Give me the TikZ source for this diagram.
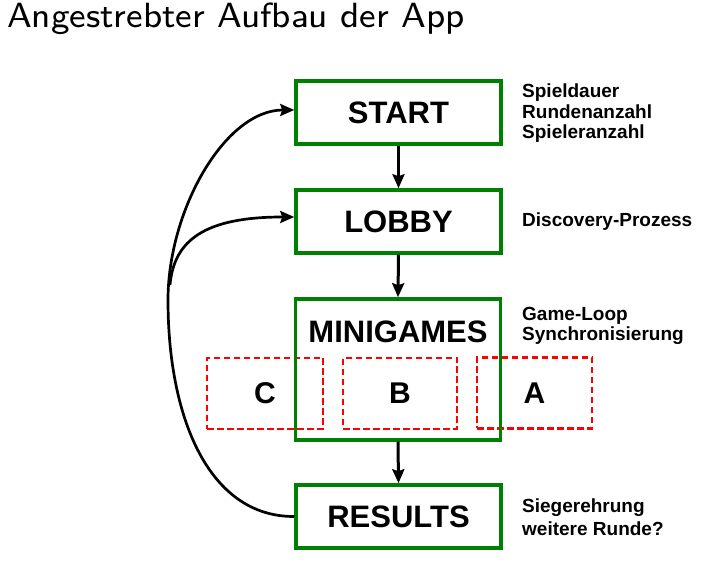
\documentclass[tikz,border=0pt]{standalone}
\usepackage{fontspec}
\newfontfamily\rob{Liberation Sans}
\newfontfamily\ttlfont{lmsans8-regular.otf}
\usetikzlibrary{arrows.meta}
\begin{document}
\begin{tikzpicture}[x=1pt,y=1pt,
  gbox/.style={draw=green!50!black, line width=3.5pt, minimum width=205pt, minimum height=63pt, inner sep=0pt, font=\rob\bfseries\fontsize{31}{37}\selectfont},
  rbox/.style={draw=red, dash pattern=on 6.5pt off 3.5pt, line width=2.1pt, minimum height=71pt, inner sep=0pt, font=\rob\bfseries\fontsize{30}{36}\selectfont},
  side/.style={anchor=base west, align=left, inner sep=0pt, font=\rob\bfseries\fontsize{19}{20.5}\selectfont},
  arr/.style={-{Stealth[length=14pt,width=12pt,inset=2pt]}, line width=3pt}]
\useasboundingbox (0,0) rectangle (724,570);
\node[anchor=base west, inner sep=0pt, font=\ttlfont\fontsize{35}{42}\selectfont] (title) at (7,542) {Angestrebter Aufbau der App};

\node[rbox, minimum width=116pt] (c) at (265,176.5) {C};
\node[rbox, minimum width=114pt] (b) at (400,176.5) {B};
\node[rbox, minimum width=115pt] (a) at (534.5,177) {A};

\node[gbox] (start) at (398.5,457.5) {START};
\node[gbox] (lobby) at (398.5,348.5) {LOBBY};
\node[gbox, minimum height=141pt] (mini) at (398,200.5) {};
\node[inner sep=0pt, font=\rob\bfseries\fontsize{31}{37}\selectfont] (minilabel) at (398,238.5) {MINIGAMES};
\node[gbox] (results) at (398.5,53.5) {RESULTS};

\draw[arr] (start.south) -- (lobby.north);
\draw[arr] (lobby.south) -- (mini.north);
\draw[arr] (mini.south) -- (results.north);

\coordinate (left) at (168,270);
\coordinate (br) at (170,285);
\draw[arr, line width=2.7pt] (results.west) .. controls (210,53) and (168,150) .. (left) .. controls (168,360) and (225,460) .. ([yshift=2.5pt]start.west);
\draw[arr, line width=2.7pt] (br) .. controls (174,330) and (205,353) .. ([yshift=4.5pt]lobby.west);

\node[side] (t1) at (522,431) {Spieldauer\\Rundenanzahl\\Spieleranzahl};
\node[side] (t2) at (522,343) {Discovery-Prozess};
\node[side] (t3) at (522,229) {Game-Loop\\Synchronisierung};
\node[side, font=\rob\bfseries\fontsize{19}{23}\selectfont] (t4) at (522,34) {Siegerehrung\\weitere Runde?};
\end{tikzpicture}
\end{document}
